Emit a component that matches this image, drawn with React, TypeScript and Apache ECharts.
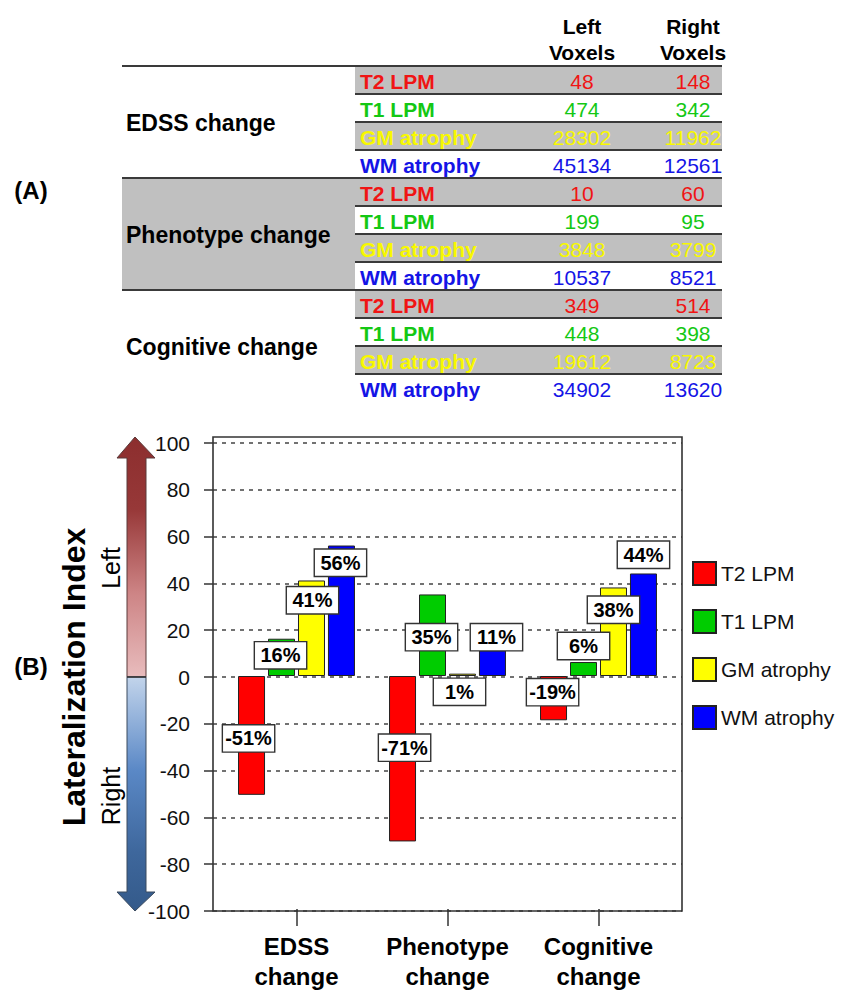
import React, { useEffect, useRef } from 'react';
import * as echarts from 'echarts';

// ---------- data ----------
const categories = ['EDSS change', 'Phenotype change', 'Cognitive change'];
const measures = ['T2 LPM', 'T1 LPM', 'GM atrophy', 'WM atrophy'];

// Lateralization index (%)
const t2Lpm = [-51, -71, -19];
const t1Lpm = [16, 35, 6];
const gmAtrophy = [41, 1, 38];
const wmAtrophy = [56, 11, 44];

const yMin = -100;
const yMax = 100;
const yInterval = 20;

// Voxel table
const tableHeaders = ['Left\nVoxels', 'Right\nVoxels'];
const edssLeft = [48, 474, 28302, 45134];
const edssRight = [148, 342, 11962, 12561];
const phenotypeLeft = [10, 199, 3848, 10537];
const phenotypeRight = [60, 95, 3799, 8521];
const cognitiveLeft = [349, 448, 19612, 34902];
const cognitiveRight = [514, 398, 8723, 13620];

// ---------- styles ----------
const FONT = '"Liberation Sans", Arial, Helvetica, sans-serif';
const barColors = ['#ff0000', '#00cc00', '#ffff00', '#0000ff'];
const textColors = ['#f01414', '#14c814', '#f8f800', '#1414e6'];

// label offsets relative to bar centre (style only)
const LABEL_OFFSETS = [
  [[-3, 3], [2, -11], [-1, -6]],
  [[-1, -2], [-1, 2], [0, -23]],
  [[1, -28], [-3, 17], [0, -22]],
  [[-1, -48], [4, -26], [0, -70]],
];

const seriesValues = [t2Lpm, t1Lpm, gmAtrophy, wmAtrophy];
const leftGroups = [edssLeft, phenotypeLeft, cognitiveLeft];
const rightGroups = [edssRight, phenotypeRight, cognitiveRight];

function buildTable(): any[] {
  const els: any[] = [];
  const TOP = 66;
  const RH = 28;
  const X0 = 122;
  const XL = 355;
  const X1 = 722;
  const C1 = 582;
  const C2 = 693;
  [C1, C2].forEach((cx, i) => {
    els.push({
      type: 'text',
      x: cx,
      y: 39,
      style: {
        text: tableHeaders[i],
        fontFamily: FONT,
        fontSize: 21,
        fontWeight: 'bold',
        lineHeight: 26,
        fill: '#000',
        align: 'center',
        verticalAlign: 'middle',
      },
    });
  });
  categories.forEach((g, gi) => {
    const gTop = TOP + gi * 4 * RH;
    if (gi === 1) {
      els.push({
        type: 'rect',
        shape: { x: X0, y: gTop, width: XL - X0, height: 4 * RH },
        style: { fill: '#c0c0c0' },
      });
    }
    measures.forEach((m, mi) => {
      const y0 = gTop + mi * RH;
      if (mi % 2 === 0) {
        els.push({
          type: 'rect',
          shape: { x: XL, y: y0, width: X1 - XL, height: RH },
          style: { fill: '#c0c0c0' },
        });
      }
    });
    measures.forEach((m, mi) => {
      const y0 = gTop + mi * RH;
      els.push({
        type: 'line',
        shape: { x1: mi === 0 ? X0 : XL, y1: y0, x2: X1, y2: y0 },
        style: { stroke: '#3a3a3a', lineWidth: 2 },
        z: 5,
      });
      const cy = y0 + RH / 2 + 1;
      els.push({
        type: 'text',
        x: XL + 5,
        y: cy,
        style: {
          text: m,
          fontFamily: FONT,
          fontSize: 21,
          fontWeight: 'bold',
          fill: textColors[mi],
          align: 'left',
          verticalAlign: 'middle',
        },
        z: 6,
      });
      [leftGroups[gi][mi], rightGroups[gi][mi]].forEach((v, ci) => {
        els.push({
          type: 'text',
          x: ci === 0 ? C1 : C2,
          y: cy,
          style: {
            text: String(v),
            fontFamily: FONT,
            fontSize: 21,
            fill: textColors[mi],
            align: 'center',
            verticalAlign: 'middle',
          },
          z: 6,
        });
      });
    });
    els.push({
      type: 'text',
      x: 126,
      y: gTop + 2 * RH + 1,
      style: {
        text: g,
        fontFamily: FONT,
        fontSize: 23,
        fontWeight: 'bold',
        fill: '#000',
        align: 'left',
        verticalAlign: 'middle',
      },
      z: 6,
    });
  });
  return els;
}

function buildDecor(): any[] {
  const els: any[] = [];
  els.push({
    type: 'text', x: 31, y: 190,
    style: { text: '(A)', fontFamily: FONT, fontSize: 24, fontWeight: 'bold', fill: '#000', align: 'center', verticalAlign: 'middle' },
  });
  els.push({
    type: 'text', x: 31, y: 666,
    style: { text: '(B)', fontFamily: FONT, fontSize: 24, fontWeight: 'bold', fill: '#000', align: 'center', verticalAlign: 'middle' },
  });
  els.push({
    type: 'polygon',
    shape: {
      points: [[127, 677], [127, 458], [117, 458], [135, 437], [155, 458], [146, 458], [146, 677]],
    },
    style: {
      fill: new echarts.graphic.LinearGradient(0, 0, 0, 1, [
        { offset: 0, color: '#8c2e2e' },
        { offset: 0.3, color: '#973838' },
        { offset: 0.65, color: '#cd8485' },
        { offset: 1, color: '#e8bcbd' },
      ]),
      stroke: '#5a3a3a',
      lineWidth: 1,
    },
  });
  els.push({
    type: 'polygon',
    shape: {
      points: [[127, 677], [127, 892], [117, 892], [135, 911], [155, 892], [146, 892], [146, 677]],
    },
    style: {
      fill: new echarts.graphic.LinearGradient(0, 0, 0, 1, [
        { offset: 0, color: '#c2d4eb' },
        { offset: 0.4, color: '#5a88c6' },
        { offset: 0.75, color: '#3e679c' },
        { offset: 1, color: '#345a8a' },
      ]),
      stroke: '#3a4a5e',
      lineWidth: 1,
    },
  });
  els.push({
    type: 'line',
    shape: { x1: 127, y1: 677, x2: 146, y2: 677 },
    style: { stroke: '#333', lineWidth: 1.5 },
  });
  els.push({
    type: 'text', x: 74, y: 677, rotation: Math.PI / 2,
    style: { text: 'Lateralization Index', fontFamily: FONT, fontSize: 32, fontWeight: 'bold', fill: '#000', align: 'center', verticalAlign: 'middle' },
  });
  els.push({
    type: 'text', x: 111, y: 568, rotation: Math.PI / 2,
    style: { text: 'Left', fontFamily: FONT, fontSize: 25, fill: '#000', align: 'center', verticalAlign: 'middle' },
  });
  els.push({
    type: 'text', x: 111, y: 796, rotation: Math.PI / 2,
    style: { text: 'Right', fontFamily: FONT, fontSize: 25, fill: '#000', align: 'center', verticalAlign: 'middle' },
  });
  els.push({
    type: 'rect',
    shape: { x: 213, y: 437, width: 469, height: 474 },
    style: { fill: 'none', stroke: '#333', lineWidth: 1.6 },
    z: 10,
  });
  return els;
}

export default function App() {
  const ref = useRef<HTMLDivElement>(null);
  useEffect(() => {
    if (!ref.current) return;
    const chart = echarts.init(ref.current, undefined, { renderer: 'svg' });
    const option: any = {
      animation: false,
      backgroundColor: '#fff',
      textStyle: { fontFamily: FONT },
      grid: [
        { left: 221, width: 453, top: 443, height: 468, containLabel: false },
        { left: 213, width: 469, top: 443, height: 468, containLabel: false },
      ],
      legend: {
        orient: 'vertical',
        left: 692,
        top: 561,
        padding: 0,
        itemWidth: 23,
        itemHeight: 23,
        itemGap: 23,
        icon: 'rect',
        selectedMode: false,
        textStyle: { fontSize: 21, color: '#111', fontFamily: FONT },
        data: measures,
      },
      xAxis: [
        {
          type: 'category',
          gridIndex: 0,
          data: categories,
          position: 'bottom',
          axisLine: { show: false, onZero: false },
          axisTick: { show: true, alignWithLabel: true, length: 17, lineStyle: { color: '#333', width: 1.5 } },
          axisLabel: {
            interval: 0,
            formatter: (v: string) => v.replace(' ', '\n'),
            fontSize: 24,
            fontWeight: 'bold',
            color: '#000',
            lineHeight: 30,
            margin: 22,
            fontFamily: FONT,
          },
          splitLine: { show: false },
        },
        { type: 'value', gridIndex: 1, show: false, min: 0, max: 1 },
      ],
      yAxis: [
        { type: 'value', gridIndex: 0, min: yMin, max: yMax, interval: yInterval, show: false, splitLine: { show: false } },
        {
          type: 'value',
          gridIndex: 1,
          min: yMin,
          max: yMax,
          interval: yInterval,
          axisLine: { show: false },
          axisTick: { show: true, length: 9, lineStyle: { color: '#333', width: 1.5 } },
          axisLabel: { fontSize: 21, color: '#111', margin: 23, fontFamily: FONT },
          splitLine: { show: true, lineStyle: { type: [4, 5], color: '#444', width: 1.5 } },
        },
      ],
      series: measures.map((name, si) => ({
        name,
        type: 'bar',
        xAxisIndex: 0,
        yAxisIndex: 0,
        barWidth: 27,
        barGap: '11%',
        itemStyle: { color: barColors[si], borderColor: '#222', borderWidth: 1 },
        label: {
          show: true,
          position: 'inside',
          formatter: (p: any) => `${p.value}%`,
          fontFamily: FONT,
          fontSize: 20,
          fontWeight: 'bold',
          color: '#000',
          backgroundColor: '#fff',
          borderColor: '#333',
          borderWidth: 1.4,
          width: 43,
          align: 'center',
          lineHeight: 20,
          padding: [3, 4],
        },
        data: seriesValues[si].map((v, i) => ({ value: v, label: { offset: LABEL_OFFSETS[si][i] } })),
      })),
      graphic: { elements: [...buildTable(), ...buildDecor()] },
    };
    chart.setOption(option);
    return () => chart.dispose();
  }, []);
  return (
    <div
      ref={ref}
      style={{ position: 'absolute', left: 0, top: 0, width: 845, height: 991, background: '#fff' }}
    />
  );
}
